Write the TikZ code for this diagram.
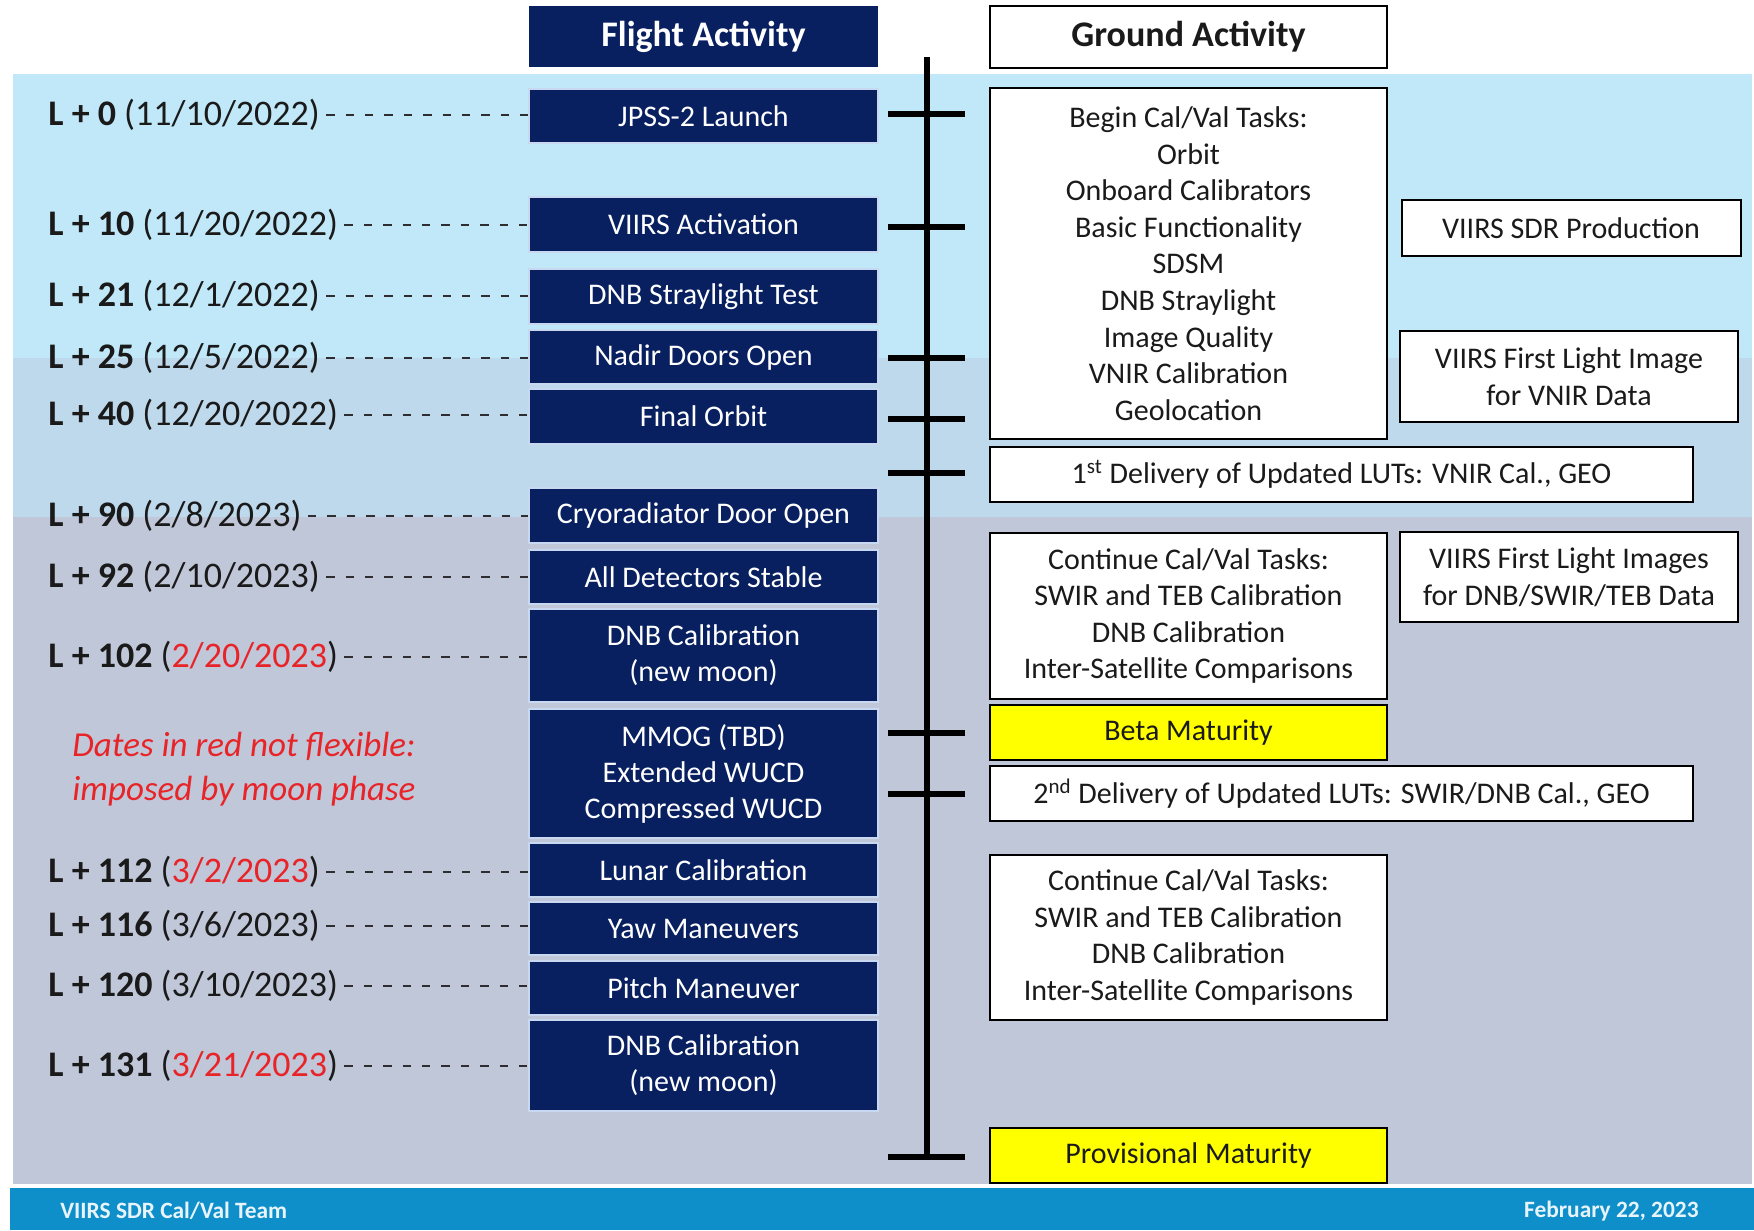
\documentclass[tikz,border=0pt]{standalone}
\usepackage{fontspec}
\setmainfont{Carlito}
\definecolor{navy}{RGB}{8,32,96}
\definecolor{navyedge}{RGB}{200,216,240}
\definecolor{bandA}{RGB}{192,232,248}
\definecolor{bandB}{RGB}{190,216,236}
\definecolor{bandC}{RGB}{192,199,216}
\definecolor{footer}{RGB}{14,143,201}
\definecolor{redtxt}{RGB}{232,36,40}
\definecolor{ink}{RGB}{26,26,26}
\definecolor{dashink}{RGB}{45,45,50}
\definecolor{boxyellow}{RGB}{255,255,0}
\tikzset{
  flt/.style={fill=navy, draw=navyedge, line width=0.8pt, text=white,
    font=\fontsize{15}{18}\selectfont, align=center, minimum width=174.5pt, inner sep=0pt},
  fltitle/.style={flt, draw=none, font=\bfseries\fontsize{18}{21}\selectfont},
  gnd/.style={fill=white, draw=black, line width=1pt, text=ink,
    font=\fontsize{15}{18.3}\selectfont, align=center, inner sep=0pt},
  gndtitle/.style={gnd, font=\bfseries\fontsize{18}{21}\selectfont},
  yel/.style={gnd, fill=boxyellow},
  lab/.style={anchor=west, font=\fontsize{18}{21}\selectfont, text=ink, inner xsep=3pt, inner ysep=0pt},
  leader/.style={draw=dashink, line width=1pt, dash pattern=on 4.2pt off 5.5pt},
  tline/.style={line width=3pt, black},
  tickmark/.style={line width=3pt, black},
  foot/.style={font=\bfseries\fontsize{11.7}{14}\selectfont, text={rgb,255:red,232;green,244;blue,252}, inner sep=0pt}
}
\newcommand{\rd}[1]{\textcolor{redtxt}{#1}}
\begin{document}
\begin{tikzpicture}[x=0.5pt,y=-0.5pt]
\useasboundingbox (0,0) rectangle (1754,1230);
\fill[white] (0,0) rectangle (1754,1230);
% bands
\fill[bandA] (13,74) rectangle (1752,358);
\fill[bandB] (13,358) rectangle (1752,517);
\fill[bandC] (13,517) rectangle (1752,1184);
\fill[footer] (10,1188) rectangle (1754,1230);

% timeline
\coordinate (ttop) at (927,57);
\coordinate (tbot) at (927,1157);
\draw[tline] (ttop) -- (tbot);
\foreach \ty in {114,227,358,419,473,733,794,1157}
  \draw[tickmark] (888,\ty) -- (965,\ty);

% flight activity column
\node[fltitle, minimum height=30.5pt] (fa) at (703.5,36.5) {Flight Activity};
\node[flt, minimum height=27pt] (f1) at (703.5,116) {JPSS-2 Launch};
\node[flt, minimum height=27.5pt] (f2) at (703.5,224.5) {VIIRS Activation};
\node[flt, minimum height=27.5pt] (f3) at (703.5,296.5) {DNB Straylight Test};
\node[flt, minimum height=27pt] (f4) at (703.5,357) {Nadir Doors Open};
\node[flt, minimum height=27.5pt] (f5) at (703.5,416.5) {Final Orbit};
\node[flt, minimum height=27.5pt] (f6) at (703.5,515.5) {Cryoradiator Door Open};
\node[flt, minimum height=27pt] (f7) at (703.5,577) {All Detectors Stable};
\node[flt, minimum height=46.5pt] (f8) at (703.5,655.5) {DNB Calibration\\(new moon)};
\node[flt, minimum height=64.5pt] (f9) at (703.5,773.5) {MMOG (TBD)\\Extended WUCD\\Compressed WUCD};
\node[flt, minimum height=27pt] (f10) at (703.5,870) {Lunar Calibration};
\node[flt, minimum height=26.5pt] (f11) at (703.5,928.5) {Yaw Maneuvers};
\node[flt, minimum height=27pt] (f12) at (703.5,988) {Pitch Maneuver};
\node[flt, minimum height=45.5pt] (f13) at (703.5,1065.5) {DNB Calibration\\(new moon)};

% labels
\node[lab] (l1) at (42,115) {\textbf{L + 0} (11/10/2022)};
\node[lab] (l2) at (42,225) {\textbf{L + 10} (11/20/2022)};
\node[lab] (l3) at (42,296) {\textbf{L + 21} (12/1/2022)};
\node[lab] (l4) at (42,358) {\textbf{L + 25} (12/5/2022)};
\node[lab] (l5) at (42,415) {\textbf{L + 40} (12/20/2022)};
\node[lab] (l6) at (42,516) {\textbf{L + 90} (2/8/2023)};
\node[lab] (l7) at (42,577) {\textbf{L + 92} (2/10/2023)};
\node[lab] (l8) at (42,657) {\textbf{L + 102} (\rd{2/20/2023})};
\node[lab] (l10) at (42,872) {\textbf{L + 112} (\rd{3/2/2023})};
\node[lab] (l11) at (42,926) {\textbf{L + 116} (3/6/2023)};
\node[lab] (l12) at (42,986) {\textbf{L + 120} (3/10/2023)};
\node[lab] (l13) at (42,1066) {\textbf{L + 131} (\rd{3/21/2023})};
\foreach \a/\b in {l1/f1,l2/f2,l3/f3,l4/f4,l5/f5,l6/f6,l7/f7,l8/f8,l10/f10,l11/f11,l12/f12,l13/f13}
  \draw[leader] (\a.east) -- (\b.west |- \a.east);

\node[anchor=west, align=left, text=redtxt, inner sep=0pt,
  font=\itshape\fontsize{17.5}{22}\selectfont] (note) at (72,769)
  {Dates in red not flexible:\\imposed by moon phase};

% ground activity column
\node[gndtitle, minimum width=198.5pt, minimum height=31pt] (ga) at (1188.5,37) {Ground Activity};
\node[gnd, minimum width=198.5pt, minimum height=175.5pt] (g1) at (1188.5,263.5)
  {Begin Cal/Val Tasks:\\Orbit\\Onboard Calibrators\\Basic Functionality\\SDSM\\DNB Straylight\\Image Quality\\VNIR Calibration\\Geolocation};
\node[gnd, minimum width=351.5pt, minimum height=27.5pt] (g2) at (1341.5,474.5)
  {1\textsuperscript{st} Delivery of Updated LUTs: VNIR Cal., GEO};
\node[gnd, minimum width=198.5pt, minimum height=83pt] (g3) at (1188.5,616)
  {Continue Cal/Val Tasks:\\SWIR and TEB Calibration\\DNB Calibration\\Inter-Satellite Comparisons};
\node[yel, minimum width=198.5pt, minimum height=27.5pt] (g4) at (1188.5,732.5) {Beta Maturity};
\node[gnd, minimum width=351.5pt, minimum height=27.5pt] (g5) at (1341.5,793.5)
  {2\textsuperscript{nd} Delivery of Updated LUTs: SWIR/DNB Cal., GEO};
\node[gnd, minimum width=198.5pt, minimum height=82.5pt] (g6) at (1188.5,937.5)
  {Continue Cal/Val Tasks:\\SWIR and TEB Calibration\\DNB Calibration\\Inter-Satellite Comparisons};
\node[yel, minimum width=198.5pt, minimum height=27.5pt] (g7) at (1188.5,1155.5) {Provisional Maturity};

% right column
\node[gnd, minimum width=169.5pt, minimum height=28pt] (r1) at (1571,228) {VIIRS SDR Production};
\node[gnd, minimum width=169pt, minimum height=45.5pt] (r2) at (1569,376.5) {VIIRS First Light Image\\for VNIR Data};
\node[gnd, minimum width=169pt, minimum height=45pt] (r3) at (1569,577) {VIIRS First Light Images\\for DNB/SWIR/TEB Data};

% footer
\node[foot, anchor=west] (ft1) at (60,1211) {VIIRS SDR Cal/Val Team};
\node[foot, anchor=east] (ft2) at (1699,1211) {February 22, 2023};
\end{tikzpicture}
\end{document}
